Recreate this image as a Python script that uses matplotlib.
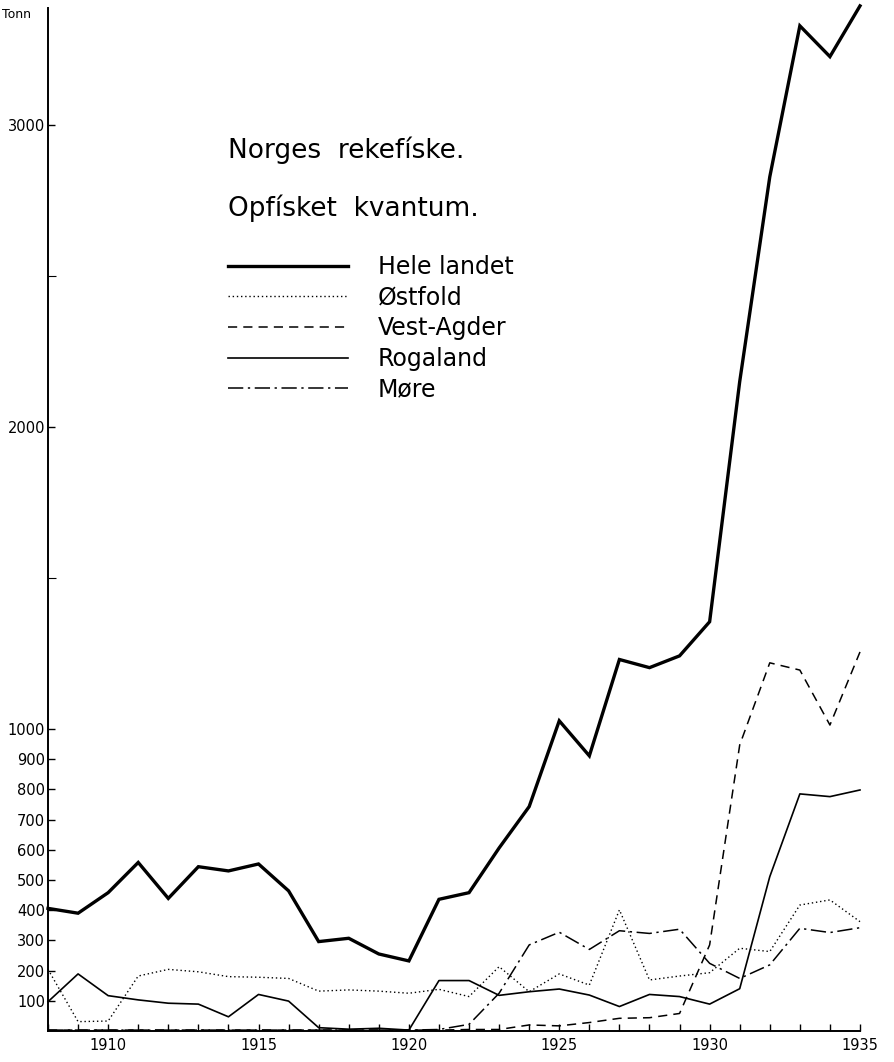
import numpy as np
import matplotlib
matplotlib.use('Agg')
import matplotlib.pyplot as plt

# Norges rekefiske, opfisket kvantum (tonn)
years = list(range(1908, 1936))

hele_landet = [406, 390, 458, 558, 439, 544, 530, 553, 464, 296, 307, 255, 232, 436,
               458, 606, 743, 1027, 911, 1230, 1203, 1242, 1355, 2150, 2828, 3328, 3226, 3394]
ostfold = [204, 31, 33, 182, 204, 196, 180, 178, 174, 132, 136, 132, 125, 138,
           114, 213, 130, 189, 152, 401, 169, 182, 193, 274, 263, 417, 434, 362]
vest_agder = [3, 3, 3, 3, 3, 3, 3, 3, 3, 3, 3, 3, 3, 3,
              5, 5, 20, 17, 28, 42, 44, 58, 285, 947, 1219, 1195, 1013, 1255]
rogaland = [97, 189, 117, 103, 92, 89, 47, 121, 99, 11, 6, 9, 3, 167,
            167, 118, 130, 139, 119, 81, 121, 114, 89, 140, 511, 785, 776, 798]
more = [3, 3, 3, 3, 3, 3, 3, 3, 3, 3, 3, 3, 3, 5,
        22, 125, 285, 327, 270, 332, 323, 337, 224, 174, 219, 340, 326, 342]

labels = ['Hele landet', 'Østfold', 'Vest-Agder', 'Rogaland', 'Møre']
ytick_vals = [100, 200, 300, 400, 500, 600, 700, 800, 900, 1000, 2000, 3000]
xtick_vals = [1910, 1915, 1920, 1925, 1930, 1935]

plt.rcParams['font.family'] = ['DejaVu Sans']

fig = plt.figure(figsize=(8.94, 10.62), dpi=100)
ax = fig.add_axes([48 / 894, 31 / 1062, (860 - 48) / 894, (1031 - 8) / 1062])

ax.plot(years, hele_landet, color='black', lw=2.4, solid_joinstyle='miter',
        label=labels[0], clip_on=False)
ax.plot(years, ostfold, color='black', lw=1.0, linestyle=(0, (1, 2)),
        label=labels[1], clip_on=False)
ax.plot(years, vest_agder, color='black', lw=1.1, linestyle=(0, (6, 4)),
        label=labels[2], clip_on=False)
ax.plot(years, rogaland, color='black', lw=1.2, label=labels[3], clip_on=False)
ax.plot(years, more, color='black', lw=1.1, linestyle=(0, (10, 3, 1.5, 3)),
        label=labels[4], clip_on=False)

ax.set_xlim(1908, 1935)
ax.set_ylim(0, 3387)

for s in ['top', 'right']:
    ax.spines[s].set_visible(False)
ax.spines['left'].set_linewidth(1.4)
ax.spines['bottom'].set_linewidth(1.4)

ax.set_yticks(ytick_vals)
ax.set_yticklabels([str(v) for v in ytick_vals], fontsize=10.5)
ax.set_yticks([1500, 2500], minor=True)
ax.tick_params(axis='y', which='major', direction='in', length=5, width=1, pad=2)
ax.tick_params(axis='y', which='minor', direction='in', length=6, width=0.8)

ax.set_xticks(xtick_vals)
ax.set_xticklabels([str(v) for v in xtick_vals], fontsize=10.5)
ax.set_xticks(years, minor=True)
ax.tick_params(axis='x', which='both', direction='in', length=5, width=1, pad=5)

fig.text(2 / 894, 1 - 14 / 1062, 'Tonn', fontsize=9, va='center', ha='left')

fig.text(228 / 894, 1 - 150 / 1062, 'Norges  rekefíske.', fontsize=19,
         va='center', ha='left')
fig.text(228 / 894, 1 - 208 / 1062, 'Opfísket  kvantum.', fontsize=19,
         va='center', ha='left')

leg = ax.legend(loc='upper left', bbox_to_anchor=(228 / 894, 1 - 255 / 1062),
                bbox_transform=fig.transFigure, frameon=False, fontsize=17,
                handlelength=5.1, handletextpad=1.25, labelspacing=0.28,
                borderpad=0, borderaxespad=0)

plt.savefig('out.png', dpi=100)
plt.close()
